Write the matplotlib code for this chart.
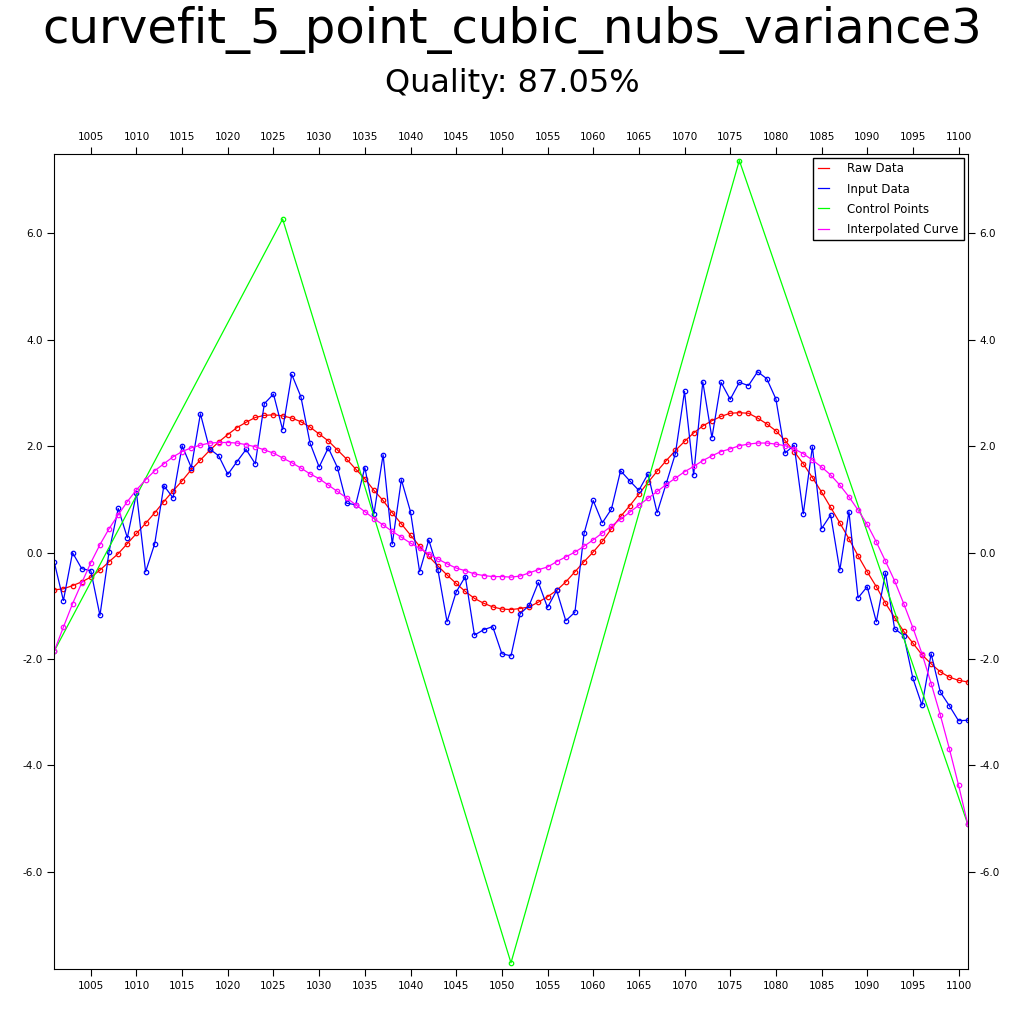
import numpy as np
import matplotlib
matplotlib.use('Agg')
import matplotlib.pyplot as plt
from matplotlib.ticker import FormatStrFormatter, MultipleLocator

title = 'curvefit_5_point_cubic_nubs_variance3'
subtitle = 'Quality: 87.05%'

x = np.arange(1001, 1102)

raw_data = [
    -0.70, -0.68, -0.62, -0.55, -0.46, -0.33, -0.17, -0.02, 0.17, 0.36,
    0.55, 0.75, 0.96, 1.16, 1.35, 1.56, 1.74, 1.92, 2.08, 2.22,
    2.35, 2.45, 2.54, 2.58, 2.59, 2.57, 2.53, 2.46, 2.36, 2.23,
    2.10, 1.93, 1.76, 1.57, 1.39, 1.17, 0.98, 0.75, 0.54, 0.33,
    0.12, -0.07, -0.25, -0.42, -0.58, -0.73, -0.86, -0.95, -1.02, -1.06,
    -1.07, -1.05, -1.02, -0.93, -0.83, -0.71, -0.55, -0.36, -0.17, 0.01,
    0.21, 0.45, 0.68, 0.88, 1.10, 1.32, 1.53, 1.73, 1.92, 2.09,
    2.25, 2.38, 2.48, 2.56, 2.62, 2.63, 2.62, 2.53, 2.42, 2.29,
    2.11, 1.90, 1.67, 1.41, 1.14, 0.85, 0.56, 0.26, -0.06, -0.36,
    -0.64, -0.95, -1.22, -1.48, -1.70, -1.92, -2.09, -2.24, -2.34, -2.40,
    -2.43,
]

input_data = [
    -0.18, -0.90, 0.00, -0.30, -0.34, -1.18, 0.02, 0.83, 0.28, 1.12,
    -0.36, 0.17, 1.26, 1.03, 2.01, 1.60, 2.61, 1.95, 1.82, 1.47,
    1.71, 1.94, 1.67, 2.80, 2.98, 2.31, 3.35, 2.93, 2.06, 1.61,
    1.97, 1.60, 0.93, 0.90, 1.60, 0.73, 1.84, 0.16, 1.37, 0.77,
    -0.36, 0.24, -0.32, -1.30, -0.74, -0.45, -1.55, -1.45, -1.39, -1.90,
    -1.94, -1.15, -0.99, -0.56, -1.03, -0.71, -1.28, -1.12, 0.36, 0.98,
    0.56, 0.82, 1.54, 1.35, 1.17, 1.48, 0.75, 1.30, 1.86, 3.03,
    1.46, 3.21, 2.16, 3.20, 2.88, 3.20, 3.14, 3.40, 3.27, 2.89,
    1.87, 2.02, 0.73, 1.99, 0.45, 0.71, -0.33, 0.77, -0.85, -0.64,
    -1.30, -0.38, -1.43, -1.56, -2.36, -2.87, -1.90, -2.62, -2.88, -3.16,
    -3.15,
]

control_x = [1001, 1026, 1051, 1076, 1101]
control_y = [-1.85, 6.27, -7.71, 7.37, -5.10]

interpolated = [
    -1.85, -1.40, -0.96, -0.57, -0.19, 0.15, 0.45, 0.71, 0.96, 1.18,
    1.37, 1.54, 1.67, 1.80, 1.90, 1.97, 2.02, 2.06, 2.07, 2.07,
    2.06, 2.03, 1.99, 1.93, 1.87, 1.78, 1.69, 1.59, 1.48, 1.39,
    1.27, 1.15, 1.03, 0.90, 0.77, 0.64, 0.52, 0.40, 0.29, 0.18,
    0.08, -0.02, -0.12, -0.21, -0.29, -0.34, -0.40, -0.43, -0.45, -0.45,
    -0.46, -0.44, -0.38, -0.32, -0.27, -0.17, -0.08, 0.01, 0.12, 0.24,
    0.37, 0.50, 0.63, 0.76, 0.89, 1.02, 1.15, 1.28, 1.40, 1.52,
    1.62, 1.73, 1.82, 1.90, 1.95, 2.01, 2.04, 2.06, 2.06, 2.04,
    2.01, 1.95, 1.86, 1.74, 1.61, 1.46, 1.27, 1.05, 0.80, 0.53,
    0.20, -0.16, -0.53, -0.96, -1.41, -1.90, -2.46, -3.05, -3.69, -4.37,
    -5.10,
]

fig = plt.figure(figsize=(10.24, 10.24), dpi=100)
ax = fig.add_axes([0.053, 0.054, 0.892, 0.796])

style = dict(marker='o', markersize=3.2, markerfacecolor='none', linewidth=0.9,
             markeredgewidth=0.9)
ax.plot(x, raw_data, color='#ff0000', label='Raw Data', **style)
ax.plot(x, input_data, color='#0000ff', label='Input Data', **style)
ax.plot(control_x, control_y, color='#00ff00', label='Control Points', **style)
ax.plot(x, interpolated, color='#ff00ff', label='Interpolated Curve', **style)

ax.set_xlim(1001, 1101)
ax.set_ylim(-7.82, 7.50)
ax.xaxis.set_major_locator(MultipleLocator(5))
ax.yaxis.set_major_locator(MultipleLocator(2))
ax.yaxis.set_major_formatter(FormatStrFormatter('%.1f'))
ax.tick_params(direction='out', length=5, labelsize=7.5,
               top=True, labeltop=True, right=True, labelright=True)

leg = ax.legend(loc='upper right', fontsize=8.5, handlelength=0.9,
                handletextpad=1.6, borderpad=0.4, labelspacing=0.6,
                fancybox=False, framealpha=1, borderaxespad=0.35)
leg.get_frame().set_edgecolor('black')
for h in leg.legend_handles:
    h.set_marker('')

fig.text(0.5, 0.971, title, ha='center', va='center', fontsize=34.7)
fig.text(0.5, 0.918, subtitle, ha='center', va='center', fontsize=23)

fig.savefig('out.png')
